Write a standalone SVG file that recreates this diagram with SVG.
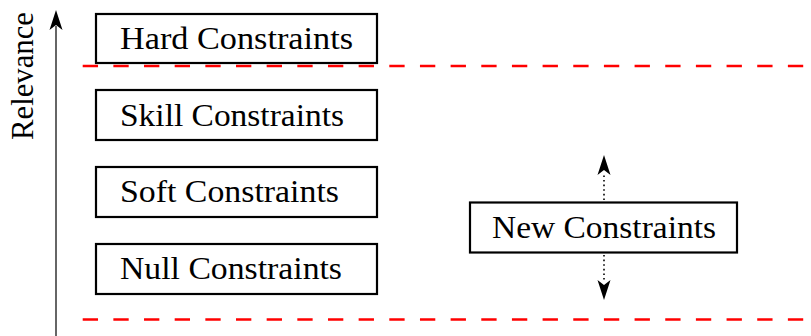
<svg xmlns="http://www.w3.org/2000/svg" width="811" height="336" viewBox="0 0 811 336">
  <style>
    .box { fill: #fff; stroke: #000; stroke-width: 2.2; }
    .lbl { font-family: "Liberation Serif", serif; font-size: 31px; fill: #000; }
    .sep { stroke: #f00; stroke-width: 2.6; stroke-dasharray: 15.33 15.33; fill: none; }
    .dot { stroke: #000; stroke-width: 1.6; stroke-dasharray: 1.6 3; fill: none; }
  </style>
  <defs>
    <!-- stealth-style head, tip at the origin pointing +x -->
    <path id="head" d="M0,0 L-20,-6.5 L-15,0 L-20,6.5 Z" fill="#000"/>
  </defs>

  <!-- relevance axis -->
  <g id="axis">
    <line x1="56" y1="336" x2="56" y2="26" stroke="#666" stroke-width="2"/>
    <use href="#head" transform="translate(56,10) rotate(-90)"/>
    <text class="lbl" transform="translate(33,140) rotate(-90)" textLength="128" lengthAdjust="spacingAndGlyphs">Relevance</text>
  </g>

  <!-- separators -->
  <g id="separators">
    <line class="sep" x1="82.7" y1="66" x2="811" y2="66"/>
    <line class="sep" x1="82.7" y1="319.5" x2="811" y2="319.5"/>
  </g>

  <g id="hard">
    <rect class="box" x="96" y="14" width="281" height="49"/>
    <text class="lbl" x="120" y="49" textLength="233" lengthAdjust="spacingAndGlyphs">Hard Constraints</text>
  </g>
  <g id="skill">
    <rect class="box" x="96" y="90" width="281" height="50"/>
    <text class="lbl" x="120" y="126" textLength="224" lengthAdjust="spacingAndGlyphs">Skill Constraints</text>
  </g>
  <g id="soft">
    <rect class="box" x="96" y="167" width="281" height="50"/>
    <text class="lbl" x="120" y="202.3" textLength="219" lengthAdjust="spacingAndGlyphs">Soft Constraints</text>
  </g>
  <g id="null">
    <rect class="box" x="96" y="244" width="281" height="50"/>
    <text class="lbl" x="120" y="279" textLength="222" lengthAdjust="spacingAndGlyphs">Null Constraints</text>
  </g>
  <g id="new">
    <rect class="box" x="470" y="202.5" width="267" height="50"/>
    <text class="lbl" x="492" y="238.3" textLength="224" lengthAdjust="spacingAndGlyphs">New Constraints</text>
  </g>

  <g id="connectors">
    <line class="dot" x1="604" y1="200" x2="604" y2="174"/>
    <use href="#head" transform="translate(604,155) rotate(-90)"/>
    <line class="dot" x1="604" y1="255" x2="604" y2="281"/>
    <use href="#head" transform="translate(604,300) rotate(90)"/>
  </g>
</svg>
